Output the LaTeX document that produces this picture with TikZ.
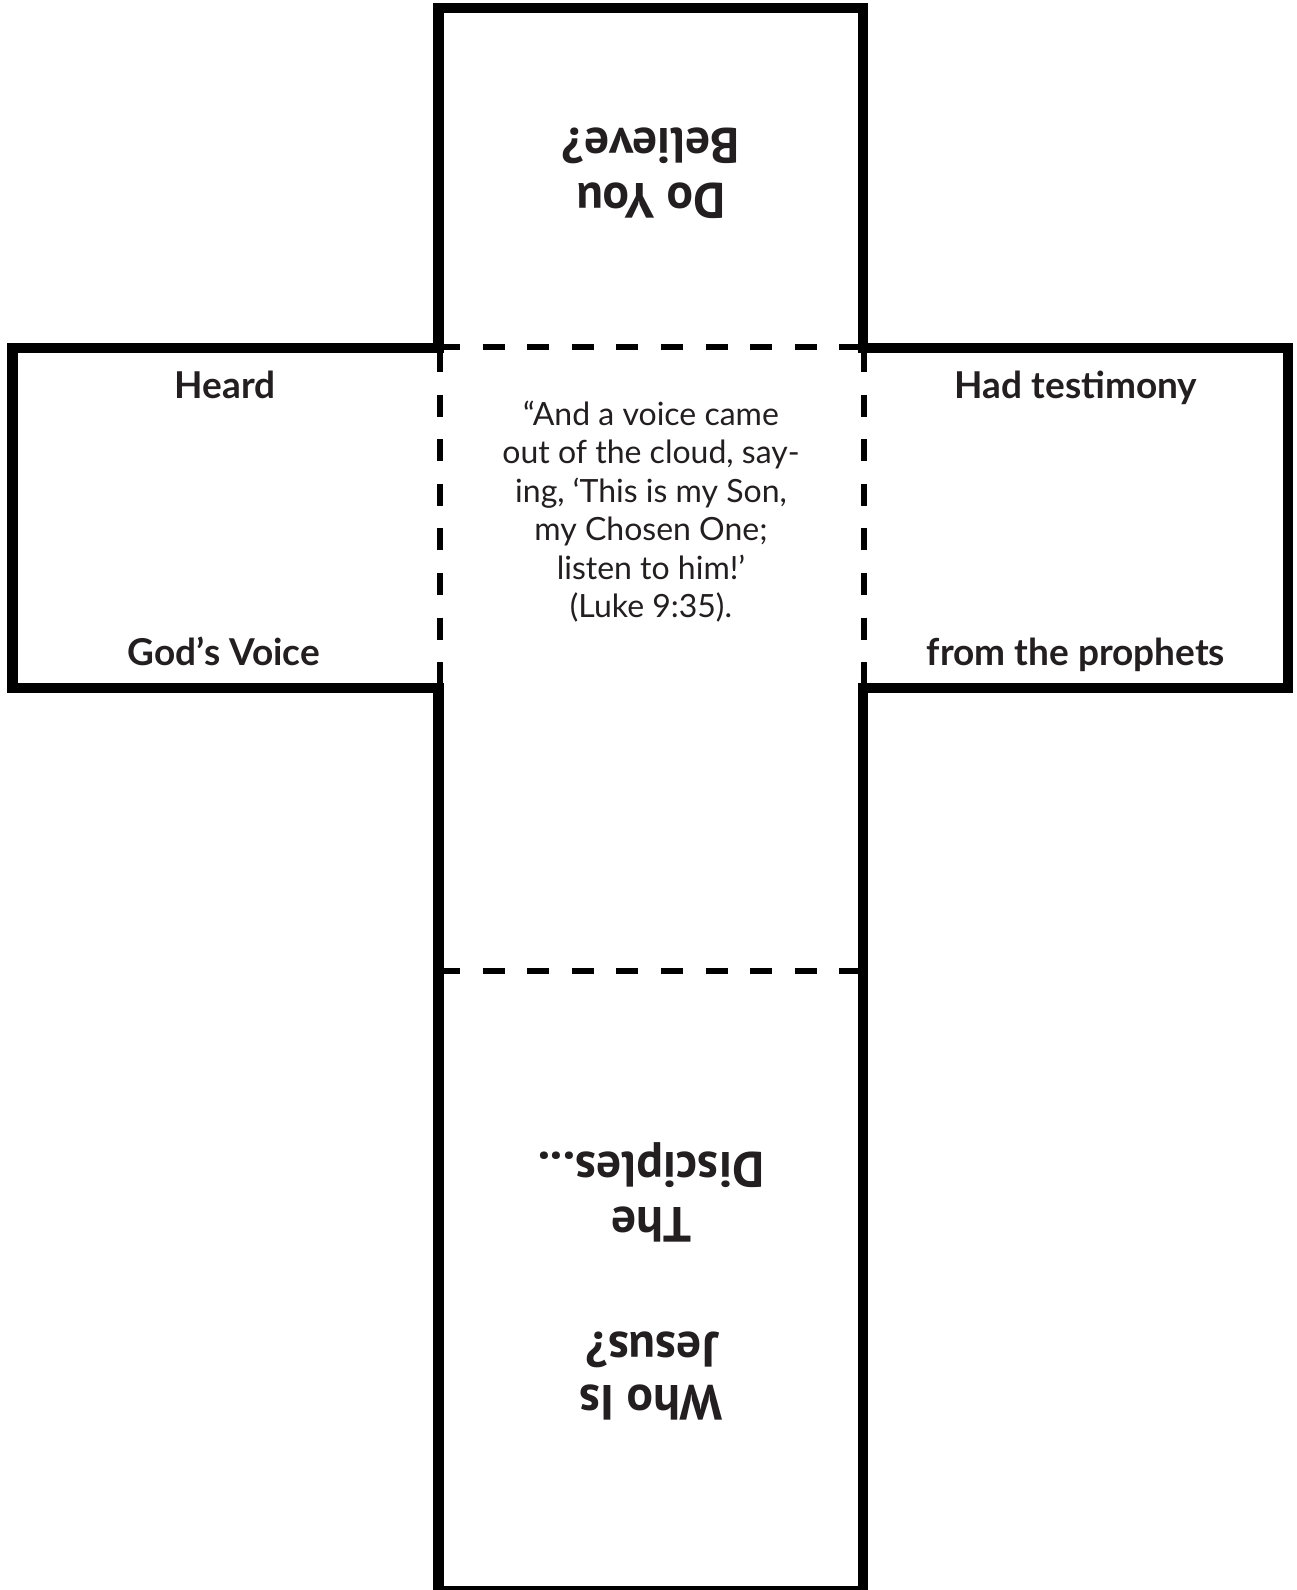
\documentclass[tikz,border=0pt]{standalone}
\usepackage{fontspec}
\setmainfont{Lato}
\newfontfamily\flipfont{PT Sans}
\definecolor{ink}{RGB}{35,31,32}
\begin{document}
\begin{tikzpicture}[x=1pt,y=-1pt,
  outline/.style={line width=10.5pt,line join=miter,draw=black},
  fold/.style={line width=6pt,dash pattern=on 22pt off 22.6pt,draw=black},
  lbl/.style={font=\fontsize{37}{44}\selectfont\bfseries,text=ink,anchor=base,inner sep=0pt},
  qline/.style={font=\fontsize{32}{38}\selectfont,text=ink,anchor=base,inner sep=0pt},
  flip/.style={font=\flipfont\bfseries\fontsize{49.5}{54}\selectfont,text=ink,rotate=180,anchor=base,inner sep=0pt}]
\useasboundingbox (0,0) rectangle (1296,1590);
\fill[white] (0,0) rectangle (1296,1590);
% outline of the cut-out cross
\draw[outline] (438.5,1591) -- (438.5,688) -- (12.5,688) -- (12.5,348) -- (438.5,348)
  -- (438.5,8) -- (863,8) -- (863,348) -- (1288,348) -- (1288,688) -- (863,688)
  -- (863,1591) -- cycle;
% fold lines
\draw[fold] (438,347) -- (863,347);
\draw[fold] (440,350) -- (440,688);
\draw[fold] (864,350) -- (864,688);
\draw[fold] (438,971) -- (863,971);
% top flap (upside down)
\node[flip] (doyou) at (651,183) {Do You};
\node[flip] (believe) at (651,128) {Believe?};
% left arm
\node[lbl] (heard) at (225,398) {Heard};
\node[lbl] (gods) at (224,665) {God’s Voice};
% right arm
\node[lbl] (had) at (1076,398) {Had testimony};
\node[lbl] (from) at (1076,665) {from the prophets};
% centre quote
\node[qline] (q1) at (651,425) {“And a voice came};
\node[qline] (q2) at (651,463.5) {out of the cloud, say-};
\node[qline] (q3) at (651,502) {ing, ‘This is my Son,};
\node[qline] (q4) at (651,540.5) {my Chosen One;};
\node[qline] (q5) at (651,579) {listen to him!’};
\node[qline] (q6) at (651,617.5) {(Luke 9:35).};
% bottom flap (upside down)
\node[flip] (the) at (651,1207) {The};
\node[flip] (disc) at (651,1152) {Disciples...};
\node[flip] (who) at (651,1385) {Who Is};
\node[flip] (jesus) at (652,1332) {Jesus?};
\end{tikzpicture}
\end{document}
